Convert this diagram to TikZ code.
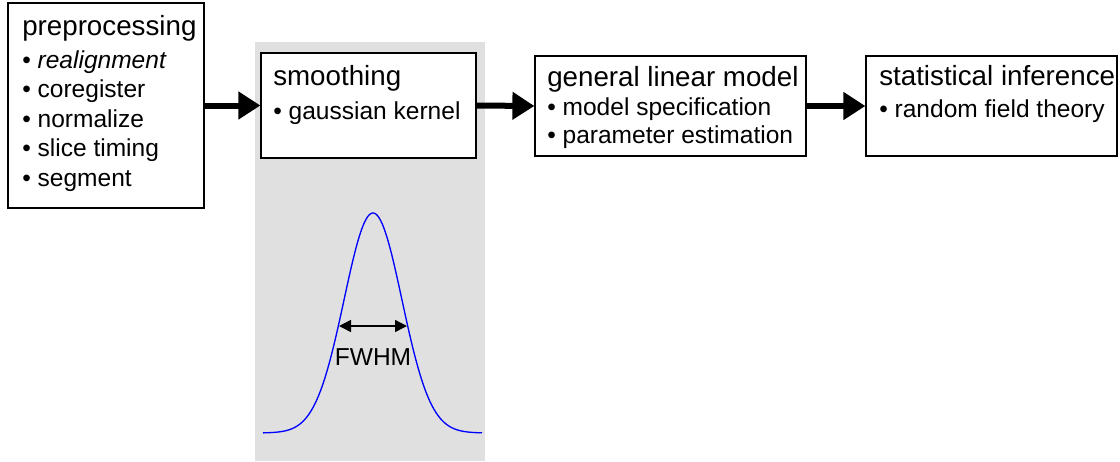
\documentclass[tikz,border=0pt]{standalone}
\usepackage{fontspec}
\setmainfont{Liberation Sans}
\usetikzlibrary{arrows.meta}
\definecolor{kernelgray}{RGB}{224,224,224}
\tikzset{
  box/.style={draw, line width=0.9pt, fill=white, inner sep=0pt},
  title/.style={anchor=base west, inner sep=0pt, font=\fontsize{20.8}{24}\selectfont},
  item/.style={anchor=base west, inner sep=0pt, font=\fontsize{18.4}{22}\selectfont},
  flow/.style={line width=4.5pt, -{Triangle[length=16.5pt,width=20pt]}},
  span/.style={line width=1.1pt, {Triangle[length=9pt,width=9pt]}-{Triangle[length=9pt,width=9pt]}}
}
\begin{document}
\begin{tikzpicture}[x=0.75pt,y=-0.75pt]
  \useasboundingbox (0,0) rectangle (1120,461);
  % shaded smoothing column
  \fill[kernelgray] (255,42) rectangle (485,461);
  % stages
  \node[box, minimum width=147pt, minimum height=153.75pt] (pre) at (106,105.5) {};
  \node[box, minimum width=161.25pt, minimum height=78.75pt] (smooth) at (368.5,105.5) {};
  \node[box, minimum width=203.25pt, minimum height=75pt] (glm) at (670.5,106) {};
  \node[box, minimum width=188.25pt, minimum height=75pt] (stat) at (991.5,106) {};
  % preprocessing text
  \node[title] (pre-t) at (22,35) {preprocessing};
  \foreach \t [count=\i] in {\textit{realignment}, coregister, normalize, slice timing, segment}
    \node[item] (pre-\i) at (22,68+29.5*\i-29.5) {\textbullet\ \t};
  % smoothing text
  \node[title] (smooth-t) at (273,85) {smoothing};
  \node[item] (smooth-1) at (273,119) {\textbullet\ gaussian kernel};
  % glm text
  \node[title] (glm-t) at (547,86) {general linear model};
  \node[item] (glm-1) at (547,115) {\textbullet\ model specification};
  \node[item] (glm-2) at (547,143) {\textbullet\ parameter estimation};
  % inference text
  \node[title] (stat-t) at (879,85) {statistical inference};
  \node[item] (stat-1) at (879,117) {\textbullet\ random field theory};
  % arrows between stages
  \draw[flow] (pre.east) -- (smooth.west);
  \draw[flow] (smooth.east) -- (glm.west);
  \draw[flow] (glm.east) -- (stat.west);
  % gaussian kernel
  \draw[blue, line width=1pt, domain=263:482, samples=120, smooth]
    plot (\x, {433-220*exp(-((\x-373)^2)/1670)});
  \coordinate (fw-l) at (339,326);
  \coordinate (fw-r) at (407,326);
  \draw[span] (fw-l) -- (fw-r);
  \node[item, anchor=base] (fwhm) at (373,365) {FWHM};
\end{tikzpicture}
\end{document}
